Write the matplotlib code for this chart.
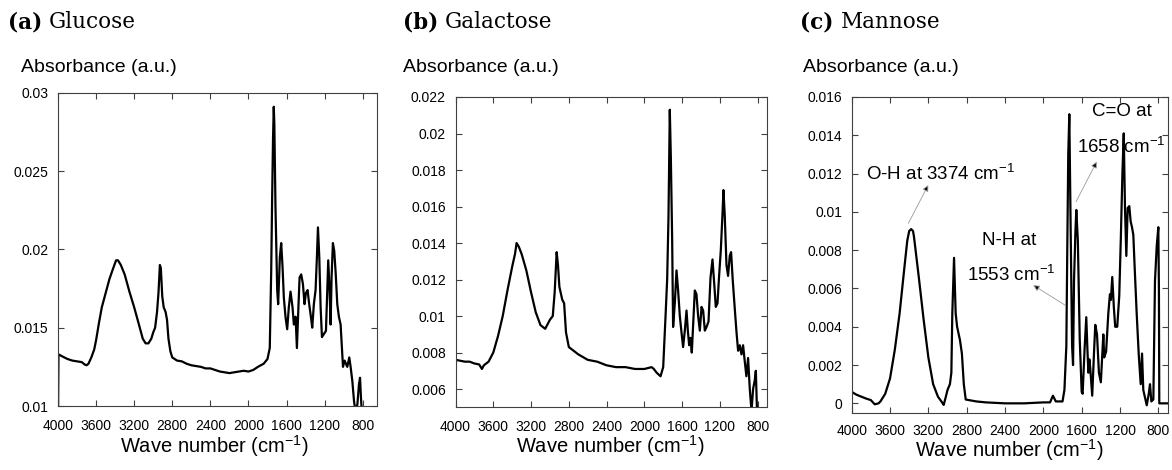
import matplotlib
matplotlib.use("Agg")
import matplotlib.pyplot as plt
from matplotlib.ticker import FixedLocator, FixedFormatter

plt.rcParams['font.family'] = ['Liberation Sans', 'DejaVu Sans']
plt.rcParams['mathtext.fontset'] = 'custom'
plt.rcParams['mathtext.rm'] = 'Liberation Sans'
plt.rcParams['mathtext.it'] = 'Liberation Sans:italic'
plt.rcParams['mathtext.bf'] = 'Liberation Sans:bold'

# ---------------- data ----------------
glucose_wn = [4000, 3995, 3950, 3900, 3850, 3800, 3750, 3720, 3700, 3680, 3650, 3620, 3600, 3570,
              3540, 3500, 3460, 3420, 3390, 3370, 3340, 3300, 3250, 3200, 3150, 3110, 3080, 3050,
              3020, 3000, 2980, 2960, 2945, 2930, 2920, 2905, 2890, 2870, 2855, 2840, 2820, 2800,
              2750, 2700, 2650, 2600, 2550, 2500, 2450, 2400, 2350, 2300, 2250, 2200, 2150, 2100,
              2050, 2000, 1950, 1900, 1840, 1800, 1776, 1761, 1751, 1742, 1734, 1728, 1716, 1698,
              1688, 1670, 1656, 1642, 1628, 1611, 1593, 1576, 1558, 1537, 1523, 1505, 1491, 1477,
              1463, 1446, 1428, 1411, 1397, 1379, 1362, 1344, 1330, 1313, 1295, 1281, 1270, 1256,
              1242, 1228, 1207, 1186, 1172, 1162, 1148, 1137, 1127, 1113, 1099, 1084, 1067, 1050,
              1032, 1021, 1007, 990, 962, 941, 927, 909, 891, 877, 856, 839, 828, 818, 805]
glucose_abs = [0.0090, 0.0133, 0.01315, 0.0130, 0.0129, 0.01285, 0.0128, 0.01265, 0.0126, 0.0127,
               0.0131, 0.0136, 0.0142, 0.0153, 0.0163, 0.0172, 0.0181, 0.0188, 0.0193, 0.0193,
               0.0190, 0.0184, 0.0173, 0.0163, 0.0152, 0.0143, 0.0140, 0.0140, 0.0143, 0.0147,
               0.0150, 0.0160, 0.0172, 0.0190, 0.0188, 0.0170, 0.0163, 0.0160, 0.0155, 0.0143,
               0.0135, 0.0131, 0.0129, 0.01285, 0.0127, 0.0126, 0.01255, 0.0125, 0.0124, 0.0124,
               0.0123, 0.0122, 0.01215, 0.0121, 0.01215, 0.0122, 0.01225, 0.0122, 0.0123, 0.0125,
               0.0127, 0.0130, 0.0137, 0.0186, 0.0233, 0.0270, 0.0291, 0.0280, 0.0227, 0.0174,
               0.0165, 0.0195, 0.0204, 0.0189, 0.0169, 0.0157, 0.0149, 0.0163, 0.0173, 0.0163,
               0.0152, 0.0157, 0.0137, 0.0160, 0.0182, 0.0184, 0.0178, 0.0165, 0.0172, 0.0174,
               0.0165, 0.0157, 0.0150, 0.0165, 0.0174, 0.0195, 0.0214, 0.0195, 0.0163, 0.0144,
               0.0146, 0.0148, 0.0174, 0.0193, 0.0174, 0.0152, 0.0182, 0.0204, 0.0199, 0.0185,
               0.0165, 0.0157, 0.0152, 0.0140, 0.0125, 0.0129, 0.0125, 0.0131, 0.0125, 0.0116,
               0.0103, 0.0097, 0.0101, 0.0114, 0.0118, 0.0105, 0.0092]

galactose_wn = [4000, 3995, 3950, 3900, 3850, 3800, 3750, 3720, 3700, 3650, 3600, 3550, 3500,
                3450, 3400, 3370, 3353, 3330, 3300, 3250, 3200, 3150, 3100, 3050, 3000, 2970,
                2950, 2929, 2915, 2900, 2870, 2850, 2830, 2800, 2700, 2600, 2500, 2400, 2300,
                2200, 2100, 2000, 1924, 1900, 1871, 1829, 1801, 1776, 1759, 1745, 1731, 1720,
                1706, 1696, 1678, 1660, 1643, 1625, 1607, 1590, 1572, 1554, 1540, 1526, 1512,
                1498, 1484, 1466, 1449, 1431, 1413, 1395, 1378, 1360, 1342, 1321, 1300, 1279,
                1261, 1244, 1226, 1209, 1191, 1173, 1163, 1149, 1131, 1114, 1096, 1082, 1065,
                1043, 1026, 1008, 990, 972, 955, 937, 920, 902, 884, 866, 849, 831, 820, 806]
galactose_abs = [0.0050, 0.0076, 0.00755, 0.0075, 0.0075, 0.0074, 0.00735, 0.0071, 0.0073,
                 0.0075, 0.0080, 0.0089, 0.0100, 0.0114, 0.0127, 0.0134, 0.0140, 0.0138, 0.0134,
                 0.0125, 0.0113, 0.0102, 0.0095, 0.0093, 0.0098, 0.0100, 0.0113, 0.0135, 0.0128,
                 0.0116, 0.0109, 0.0107, 0.0091, 0.0083, 0.0079, 0.0076, 0.0075, 0.0073, 0.0072,
                 0.0072, 0.0071, 0.0071, 0.0072, 0.0071, 0.0069, 0.0067, 0.0072, 0.0100, 0.0120,
                 0.0154, 0.0213, 0.0187, 0.0142, 0.0094, 0.0107, 0.0125, 0.0114, 0.0100, 0.0091,
                 0.0083, 0.0092, 0.0103, 0.0092, 0.0084, 0.0088, 0.0080, 0.0095, 0.0114, 0.0112,
                 0.0100, 0.0092, 0.0105, 0.0103, 0.0092, 0.0094, 0.0097, 0.0121, 0.0131, 0.0118,
                 0.0105, 0.0107, 0.0122, 0.0136, 0.0156, 0.0169, 0.0155, 0.0128, 0.0122, 0.0133,
                 0.0135, 0.0120, 0.0104, 0.0092, 0.0081, 0.0084, 0.0079, 0.0084, 0.0075, 0.0067,
                 0.0077, 0.0060, 0.0048, 0.0060, 0.0065, 0.0070, 0.0045]

mannose_wn = [4000, 3950, 3900, 3850, 3800, 3760, 3720, 3700, 3650, 3600, 3550, 3500, 3450,
              3420, 3400, 3380, 3360, 3350, 3300, 3250, 3200, 3150, 3100, 3050, 3040, 3020, 3000,
              2975, 2960, 2950, 2932, 2915, 2900, 2870, 2850, 2830, 2810, 2700, 2600, 2400, 2200,
              2000, 1930, 1900, 1870, 1800, 1780, 1760, 1750, 1740, 1729, 1715, 1700, 1690, 1680,
              1665, 1656, 1640, 1620, 1600, 1590, 1570, 1552, 1540, 1530, 1520, 1510, 1490, 1470,
              1458, 1440, 1420, 1400, 1374, 1365, 1345, 1322, 1305, 1295, 1281, 1264, 1250, 1229,
              1208, 1191, 1175, 1161, 1148, 1134, 1120, 1103, 1089, 1075, 1061, 1047, 1026, 1005,
              984, 970, 957, 939, 921, 900, 887, 873, 852, 835, 817, 800, 794, 790, 696]
mannose_abs = [0.0006, 0.00045, 0.00035, 0.00025, 0.00017, -0.00005, 0.0000, 0.0001, 0.0005,
               0.0013, 0.0028, 0.0047, 0.0071, 0.0085, 0.0090, 0.0091, 0.0090, 0.0087, 0.0066,
               0.0044, 0.0024, 0.0010, 0.00035, 0.0000, -0.00008, 0.0003, 0.0007, 0.0010, 0.0016,
               0.0047, 0.0076, 0.0047, 0.0040, 0.0033, 0.0026, 0.0010, 0.0002, 0.0001, 0.00005,
               0.0000, 0.0000, 0.00005, 0.00005, 0.0004, 0.0001, 0.0001, 0.0007, 0.0030, 0.0082,
               0.0130, 0.0151, 0.0091, 0.0030, 0.0020, 0.0064, 0.0090, 0.0101, 0.0085, 0.0033,
               0.0006, 0.0005, 0.0028, 0.0045, 0.0028, 0.0016, 0.0023, 0.0018, 0.0004, 0.0028,
               0.0041, 0.0036, 0.0016, 0.0011, 0.0036, 0.0024, 0.0027, 0.0047, 0.0057, 0.0054,
               0.0066, 0.0050, 0.0040, 0.0040, 0.0056, 0.0087, 0.0120, 0.0141, 0.0102, 0.0077,
               0.0102, 0.0103, 0.0095, 0.0092, 0.0088, 0.0071, 0.0047, 0.0026, 0.0010, 0.0026,
               0.0007, 0.0003, -0.0001, 0.0005, 0.0010, 0.0001, 0.0002, 0.0064, 0.0082, 0.0092,
               0.0060, 0.0000, 0.0000]

x_ticks = [4000, 3600, 3200, 2800, 2400, 2000, 1600, 1200, 800]
x_ticklabels = ["4000", "3600", "3200", "2800", "2400", "2000", "1600", "1200", "800"]

glucose_yticks = [0.01, 0.015, 0.02, 0.025, 0.03]
glucose_ylabels = ["0.01", "0.015", "0.02", "0.025", "0.03"]
galactose_yticks = [0.006, 0.008, 0.010, 0.012, 0.014, 0.016, 0.018, 0.020, 0.022]
galactose_ylabels = ["0.006", "0.008", "0.01", "0.012", "0.014", "0.016", "0.018", "0.02", "0.022"]
mannose_yticks = [0, 0.002, 0.004, 0.006, 0.008, 0.010, 0.012, 0.014, 0.016]
mannose_ylabels = ["0", "0.002", "0.004", "0.006", "0.008", "0.01", "0.012", "0.014", "0.016"]

panel_letters = ["(a)", "(b)", "(c)"]
panel_names = ["Glucose", "Galactose", "Mannose"]

# ---------------- figure ----------------
W, H = 1172, 470
fig = plt.figure(figsize=(W / 100, H / 100), dpi=100)

def rect(l, t, r, b):
    return [l / W, 1 - b / H, (r - l) / W, (b - t) / H]

axes_px = [(58, 92.7, 376.7, 406), (455.5, 97, 766.7, 407.3), (851.7, 97, 1168.3, 413.3)]
xlims = [(4000, 653), (4000, 705), (4000, 696)]
ylims = [(0.01, 0.03), (0.005, 0.022), (-0.00052, 0.016)]
yticks = [glucose_yticks, galactose_yticks, mannose_yticks]
ylabels = [glucose_ylabels, galactose_ylabels, mannose_ylabels]
series = [(glucose_wn, glucose_abs), (galactose_wn, galactose_abs), (mannose_wn, mannose_abs)]
title_px = [(8, 22), (403, 22), (800, 22)]
ylab_px = [(21, 67), (403.3, 67), (802.7, 67)]
xlab_px = [(214, 453), (610.5, 453), (1009, 457)]
xpads = [9, 9, 7.5]

axes = []
for i in range(3):
    ax = fig.add_axes(rect(*axes_px[i]))
    wn, ab = series[i]
    ax.plot(wn, ab, color='black', lw=1.6, solid_joinstyle='round')
    ax.set_xlim(*xlims[i])
    ax.set_ylim(*ylims[i])
    ax.xaxis.set_major_locator(FixedLocator(x_ticks))
    ax.xaxis.set_major_formatter(FixedFormatter(x_ticklabels))
    ax.yaxis.set_major_locator(FixedLocator(yticks[i]))
    ax.yaxis.set_major_formatter(FixedFormatter(ylabels[i]))
    ax.tick_params(direction='in', length=4, width=0.8, top=True, right=True,
                   labelsize=10, color='0.25', labelcolor='black')
    ax.tick_params(axis='x', pad=xpads[i])
    ax.tick_params(axis='y', pad=7)
    for sp in ax.spines.values():
        sp.set_linewidth(0.8)
        sp.set_color('0.25')
    fig.text(ylab_px[i][0] / W, 1 - ylab_px[i][1] / H, "Absorbance (a.u.)",
             ha='left', va='center', fontsize=14)
    fig.text(xlab_px[i][0] / W, 1 - xlab_px[i][1] / H, r"Wave number (cm$^{\mathregular{-1}}$)",
             ha='center', va='baseline', fontsize=14.5)
    axes.append(ax)

# titles with bold letter
fig.canvas.draw()
renderer = fig.canvas.get_renderer()
for i in range(3):
    x0, y0 = title_px[i]
    t1 = fig.text(x0 / W, 1 - y0 / H, panel_letters[i], ha='left', va='center',
                  fontsize=15.5, fontweight='bold', family='DejaVu Serif')
    bb = t1.get_window_extent(renderer)
    fig.text((bb.x1 + 7) / W, 1 - y0 / H, panel_names[i], ha='left', va='center',
             fontsize=15.5, family='DejaVu Serif')

# annotations on mannose panel
axc = axes[2]
ann_fs = 13.5
axc.text(3850, 0.0120, r"O-H at 3374 cm$^{\mathregular{-1}}$", ha='left', va='center', fontsize=ann_fs)
axc.text(2358, 0.00853, "N-H at", ha='center', va='center', fontsize=ann_fs)
axc.text(2330, 0.0067, r"1553 cm$^{\mathregular{-1}}$", ha='center', va='center', fontsize=ann_fs)
axc.text(1184, 0.01523, "C=O at", ha='center', va='center', fontsize=ann_fs)
axc.text(1186, 0.0134, r"1658 cm$^{\mathregular{-1}}$", ha='center', va='center', fontsize=ann_fs)

arrows = [((3409, 0.0094), (3201, 0.0114)),
          ((1774, 0.00513), (2105, 0.00617)),
          ((1659, 0.01053), (1443, 0.01262))]
for tail, head in arrows:
    axc.annotate('', xy=head, xytext=tail,
                 arrowprops=dict(arrowstyle='-|>', ec='0.6', fc='black', lw=0.6,
                                 mutation_scale=9, shrinkA=0, shrinkB=0))

fig.savefig("out.png", dpi=100)
